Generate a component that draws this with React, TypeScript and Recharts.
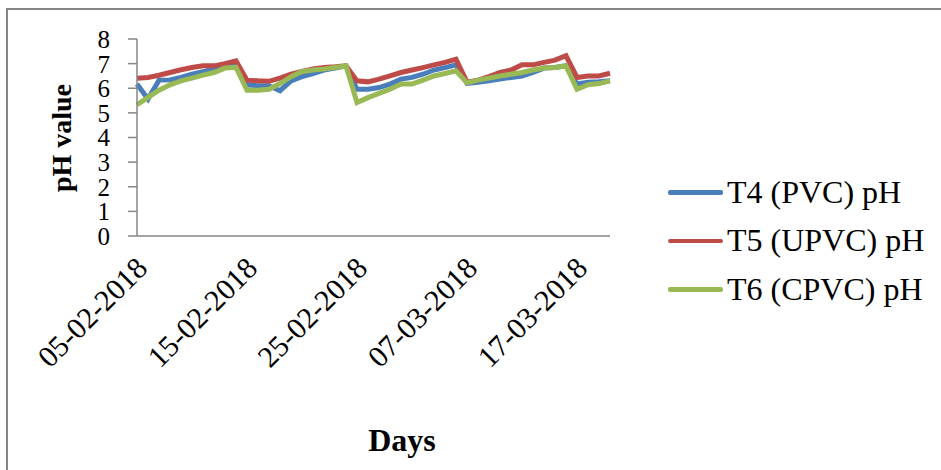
import React from "react";
import { LineChart, Line, XAxis, YAxis, Label } from "recharts";

// ==================== Data ====================

const days: string[] = [
    "05-02-2018", "06-02-2018", "07-02-2018", "08-02-2018", "09-02-2018",
    "10-02-2018", "11-02-2018", "12-02-2018", "13-02-2018", "14-02-2018",
    "15-02-2018", "16-02-2018", "17-02-2018", "18-02-2018", "19-02-2018",
    "20-02-2018", "21-02-2018", "22-02-2018", "23-02-2018", "24-02-2018",
    "25-02-2018", "26-02-2018", "27-02-2018", "28-02-2018", "01-03-2018",
    "02-03-2018", "03-03-2018", "04-03-2018", "05-03-2018", "06-03-2018",
    "07-03-2018", "08-03-2018", "09-03-2018", "10-03-2018", "11-03-2018",
    "12-03-2018", "13-03-2018", "14-03-2018", "15-03-2018", "16-03-2018",
    "17-03-2018", "18-03-2018", "19-03-2018", "20-03-2018",
];

const t4Pvc: number[] = [
    6.17, 5.56, 6.33, 6.34, 6.44, 6.57, 6.67, 6.78, 6.9, 6.98,
    6.14, 6.1, 6.1, 5.9, 6.3, 6.47, 6.6, 6.74, 6.82, 6.9,
    5.96, 5.96, 6.03, 6.17, 6.37, 6.44, 6.57, 6.74, 6.84, 6.95,
    6.2, 6.24, 6.3, 6.37, 6.44, 6.5, 6.64, 6.82, 6.84, 6.91,
    6.17, 6.24, 6.26, 6.3,
];

const t5Upvc: number[] = [
    6.41, 6.44, 6.53, 6.64, 6.75, 6.84, 6.91, 6.91, 7.0, 7.11,
    6.33, 6.3, 6.28, 6.41, 6.57, 6.68, 6.78, 6.84, 6.87, 6.91,
    6.3, 6.26, 6.37, 6.5, 6.64, 6.74, 6.84, 6.95, 7.05, 7.18,
    6.25, 6.33, 6.47, 6.64, 6.74, 6.95, 6.95, 7.05, 7.14, 7.32,
    6.44, 6.5, 6.5, 6.61,
];

const t6Cpvc: number[] = [
    5.33, 5.63, 5.92, 6.14, 6.3, 6.41, 6.53, 6.64, 6.82, 6.85,
    5.92, 5.92, 5.96, 6.19, 6.47, 6.68, 6.74, 6.78, 6.84, 6.91,
    5.42, 5.62, 5.79, 5.96, 6.17, 6.17, 6.33, 6.5, 6.6, 6.71,
    6.22, 6.33, 6.41, 6.5, 6.57, 6.64, 6.74, 6.82, 6.84, 6.91,
    5.96, 6.14, 6.19, 6.3,
];

const yTicks: number[] = [0, 1, 2, 3, 4, 5, 6, 7, 8];

const series = [
    { key: "t4", name: "T4 (PVC) pH", color: "#4A7EBB" },
    { key: "t5", name: "T5 (UPVC) pH", color: "#BE4B48" },
    { key: "t6", name: "T6 (CPVC) pH", color: "#98B954" },
];

const chartData = days.map((d, i) => ({
    day: d,
    t4: t4Pvc[i],
    t5: t5Upvc[i],
    t6: t6Cpvc[i],
}));

// ==================== Helpers ====================

const FONT = "Liberation Serif, Times New Roman, serif";
const AXIS_GREY = "#868686";

const DateTick = (props: any) => {
    const { x, y, payload } = props;
    return (
        <g transform={`translate(${x},${y})`}>
            <text
                x={12}
                y={26}
                textAnchor="end"
                transform="rotate(-45, 12, 26)"
                style={{ fontFamily: FONT, fontSize: 30 }}
                fill="#000"
            >
                {payload.value}
            </text>
        </g>
    );
};

const LegendBox = () => (
    <div
        style={{
            position: "absolute",
            left: 668,
            top: 168,
            fontFamily: FONT,
            fontSize: 32,
            color: "#000",
        }}
    >
        {series.map((s) => (
            <div key={s.key} style={{ display: "flex", alignItems: "center", height: 48.5 }}>
                <span style={{ display: "inline-block", width: 55, height: 4.5, background: s.color, borderRadius: 2, marginRight: 4 }} />
                <span style={{ whiteSpace: "nowrap" }}>{s.name}</span>
            </div>
        ))}
    </div>
);

// ==================== Component ====================

export default function App() {
    return (
        <div style={{ position: "absolute", left: 0, top: 0, width: 941, height: 470, background: "#fff" }}>
            <div
                style={{
                    position: "absolute",
                    left: 6,
                    top: 8,
                    right: 0,
                    bottom: 0,
                    borderTop: `2px solid ${AXIS_GREY}`,
                    borderLeft: `2px solid ${AXIS_GREY}`,
                }}
            />
            <div style={{ position: "absolute", left: 0, top: 0 }}>
                <LineChart
                    width={941}
                    height={470}
                    data={chartData}
                    margin={{ top: 39, right: 331, bottom: 0, left: 0 }}
                >
                    <XAxis
                        dataKey="day"
                        height={234}
                        interval={9}
                        tickLine={false}
                        stroke={AXIS_GREY}
                        strokeWidth={1.5}
                        tick={<DateTick />}
                    >
                        <Label
                            content={() => (
                                <text x={402} y={451} textAnchor="middle" style={{ fontFamily: FONT, fontSize: 32, fontWeight: "bold" }} fill="#000">
                                    Days
                                </text>
                            )}
                        />
                    </XAxis>
                    <YAxis
                        width={137}
                        domain={[0, 8]}
                        ticks={yTicks}
                        interval={0}
                        tickSize={9}
                        tickMargin={18}
                        stroke={AXIS_GREY}
                        strokeWidth={1.5}
                        tick={{ fontFamily: FONT, fontSize: 25, fill: "#000" }}
                    >
                        <Label
                            content={() => (
                                <text
                                    x={61}
                                    y={138}
                                    textAnchor="middle"
                                    dominantBaseline="central"
                                    transform="rotate(-90, 61, 138)"
                                    style={{ fontFamily: FONT, fontSize: 28, fontWeight: "bold" }}
                                    fill="#000"
                                >
                                    pH value
                                </text>
                            )}
                        />
                    </YAxis>
                    {series.map((s) => (
                        <Line
                            key={s.key}
                            type="linear"
                            dataKey={s.key}
                            name={s.name}
                            stroke={s.color}
                            strokeWidth={5}
                            dot={false}
                            activeDot={false}
                            isAnimationActive={false}
                        />
                    ))}
                </LineChart>
            </div>
            <LegendBox />
        </div>
    );
}
